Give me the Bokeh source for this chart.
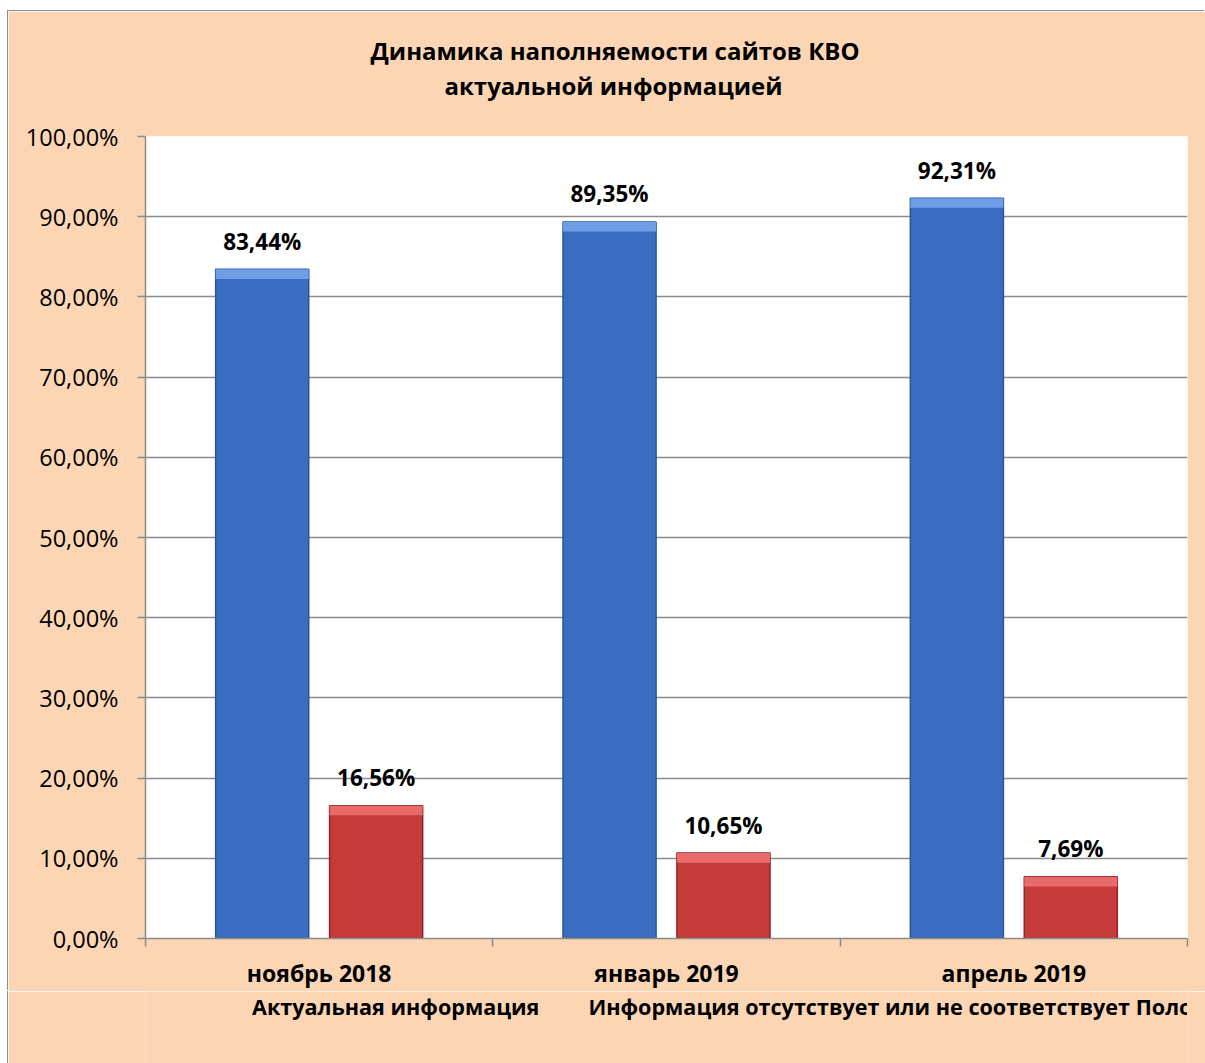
from bokeh.plotting import figure
from bokeh.layouts import column
from bokeh.models import (Range1d, FixedTicker, CustomJSTickFormatter, Legend,
                          LegendItem, Title, ColumnDataSource)
from bokeh.transform import dodge
from bokeh.core.properties import value
from bokeh.embed import file_html
from bokeh.resources import INLINE

# ---- data ----
categories = ["ноябрь 2018", "январь 2019", "апрель 2019"]
actual = [83.44, 89.35, 92.31]
missing = [16.56, 10.65, 7.69]
series_names = ["Актуальная информация",
                "Информация отсутствует или не соответствует Положению"]
title_lines = ["Динамика наполняемости сайтов КВО", "актуальной информацией"]
y_ticks = [0, 10, 20, 30, 40, 50, 60, 70, 80, 90, 100]

FONT = "Open Sans"
PEACH = "#FBD5B4"
GRID = "#8C8C8C"


def fmt(v):
    return f"{v:.2f}".replace(".", ",") + "%"


n = len(categories)
centers = [i + 0.5 for i in range(n)]
src = ColumnDataSource(dict(
    xc=centers,
    actual=actual,
    missing=missing,
    actual_lbl=[fmt(v) for v in actual],
    missing_lbl=[fmt(v) for v in missing],
))

p = figure(x_range=Range1d(0, n), y_range=Range1d(0, 100),
           frame_width=1042, frame_height=802, margin=(11, 0, 0, 8),
           output_backend="svg", toolbar_location=None,
           background_fill_color="white", border_fill_color=PEACH,
           outline_line_color=None,
           min_border_left=137, min_border_right=18,
           min_border_top=125, min_border_bottom=49)
p.styles = {"box-shadow": "-1px -1px 0 #8C8C8C"}

# y axis
yax = p.yaxis[0]
yax.ticker = FixedTicker(ticks=y_ticks)
yax.formatter = CustomJSTickFormatter(code="return tick.toFixed(2).replace('.', ',') + '%';")
yax.axis_line_color = GRID
yax.axis_line_width = 1.5
yax.major_tick_line_color = GRID
yax.major_tick_line_width = 1.5
yax.major_tick_out = 8
yax.major_tick_in = 0
yax.minor_tick_line_color = None
yax.major_label_text_font = FONT
yax.major_label_text_font_size = "23.5px"
yax.major_label_text_color = "black"
yax.major_label_standoff = 19

p.ygrid.ticker = FixedTicker(ticks=y_ticks)
p.ygrid.grid_line_color = GRID
p.ygrid.grid_line_width = 1.5
p.xgrid.visible = False

# x axis: labels at category centres, tick marks at category boundaries
xax = p.xaxis[0]
xax.ticker = FixedTicker(ticks=centers, minor_ticks=list(range(n + 1)))
xax.major_label_overrides = {c: lab for c, lab in zip(centers, categories)}
xax.axis_line_color = GRID
xax.axis_line_width = 1.5
xax.major_tick_line_color = None
xax.major_tick_out = 0
xax.major_tick_in = 0
xax.minor_tick_line_color = GRID
xax.minor_tick_line_width = 1.5
xax.minor_tick_out = 8
xax.minor_tick_in = 0
xax.major_label_text_font = FONT
xax.major_label_text_font_style = "bold"
xax.major_label_text_font_size = "23px"
xax.major_label_text_color = "black"
xax.major_label_standoff = 10

# bars
OFF = 0.164
W = 0.268
series = [
    ("actual", "actual_lbl", -OFF, "#3A6DC1", "#2B5498", "#6E9FE6"),
    ("missing", "missing_lbl", OFF, "#C63A3A", "#8E2424", "#E96A6A"),
]
for col, lbl, off, fill, edge, bevel in series:
    xs = dodge("xc", off, range=p.x_range)
    p.vbar(x=xs, top=col, bottom=0, width=W, source=src,
           fill_color=fill, line_color=edge, line_width=1.5)
    # lighter bevel at the top of each bar
    p.vbar(x=xs, top=col, bottom=dodge(col, -1.2, range=p.y_range),
           width=W, source=src, fill_color=bevel, line_color=None)
    p.text(x=xs, y=col, text=lbl, source=src, text_align="center",
           text_baseline="alphabetic", y_offset=-28,
           text_font=value(FONT), text_font_style="bold",
           text_font_size="22.5px", text_color="black")

# title: spacer, then second line, then first line (stacked upward)
p.add_layout(Title(text=" ", standoff=0, text_font=FONT,
                   text_font_size="24px"), "above")
p.add_layout(Title(text=title_lines[1], align="left", offset=299, standoff=0,
                   text_font=FONT, text_font_style="bold",
                   text_font_size="24px", text_color="black"), "above")
p.add_layout(Title(text=title_lines[0], align="left", offset=225, standoff=0,
                   text_font=FONT, text_font_style="bold",
                   text_font_size="24px", text_color="black"), "above")

# legend strip below the chart (same peach background)
lf = figure(x_range=Range1d(0, 1), y_range=Range1d(0, 1),
            width=1197, height=74, margin=(0, 0, 0, 8),
            output_backend="svg", toolbar_location=None,
            x_axis_location=None, y_axis_location=None,
            background_fill_color=PEACH, border_fill_color=PEACH,
            outline_line_color=None, min_border=0)
lf.styles = {"box-shadow": "-1px 0 0 #8C8C8C"}
lf.grid.visible = False
leg_renderers = []
for col, lbl, off, fill, edge, bevel in series:
    leg_renderers.append(lf.vbar(x=[], top=[], width=0.1,
                                 fill_color=fill, line_color=edge, line_width=1.5))

legend = Legend(items=[LegendItem(label=series_names[i], renderers=[leg_renderers[i]])
                       for i in range(len(series_names))],
                orientation="horizontal", location=(88, 44),
                background_fill_alpha=0, border_line_color=None,
                label_text_font=FONT, label_text_font_style="bold",
                label_text_font_size="21.6px", label_text_color="black",
                glyph_width=14, glyph_height=14, spacing=30,
                label_standoff=5, padding=0, margin=0)
lf.add_layout(legend)

layout = column(p, lf, spacing=0)
open("out.html", "w").write(file_html(layout, INLINE))
